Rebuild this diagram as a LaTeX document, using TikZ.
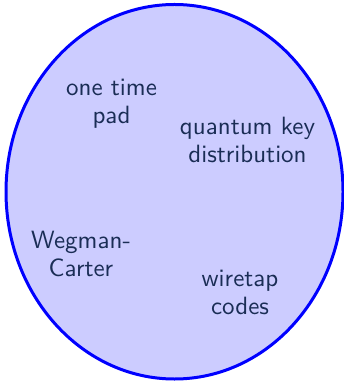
\documentclass[tikz,border=0pt]{standalone}
\usepackage{tikz}
\definecolor{labelblue}{HTML}{1A2D55}
\tikzset{
  region/.style={draw=blue, fill=blue!20, line width=1.2pt},
  lbl/.style={inner sep=0pt, align=center, text=labelblue,
              font=\sffamily\fontsize{10}{11.2}\selectfont}
}
\begin{document}
\begin{tikzpicture}[x=0.4pt, y=-0.4pt]
  \useasboundingbox (0,0) rectangle (344,384);
  \draw[region] (174.5,191.75) ellipse [x radius=168.5, y radius=187.25];
  \node[lbl] (otp) at (111.5,103.75) {one time\\pad};
  \node[lbl] (qkd) at (247.5,140) {quantum key\\distribution};
  \node[lbl] (wc)  at (81,254) {Wegman-\\Carter};
  \node[lbl] (wt)  at (240,292) {wiretap\\codes};
\end{tikzpicture}
\end{document}
